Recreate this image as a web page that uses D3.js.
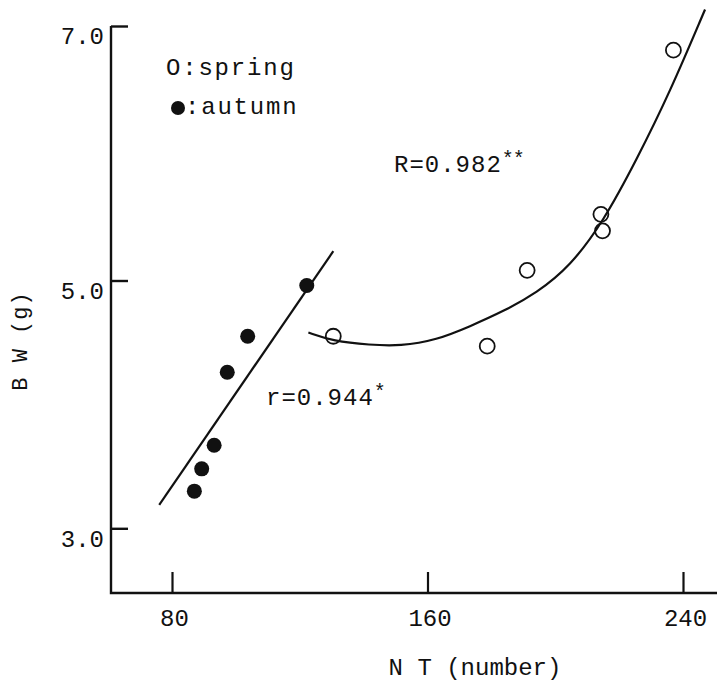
<!DOCTYPE html>
<html><head><meta charset="utf-8">
<script src="https://cdn.jsdelivr.net/npm/d3@7"></script>
<style>
body{margin:0;background:#fff}
text{font-family:"Liberation Mono","DejaVu Sans Mono",monospace;fill:#111}
</style>
</head><body>
<svg id="c" width="717" height="685"></svg>
<script>
// ---- data ----
const autumnNT = [122.2, 103.7, 97.3, 93.2, 89.3, 87.0];
const autumnBW = [4.96, 4.55, 4.26, 3.67, 3.48, 3.30];
const springNT = [130.5, 178.7, 191.2, 214.3, 214.8, 237.0];
const springBW = [4.55, 4.47, 5.08, 5.52, 5.39, 6.81];
// fitted line (autumn) endpoints and fitted curve (spring)
const autumnFitNT = [76.0, 130.5];
const autumnFitBW = [3.19, 5.23];
const springFitNT = [122.7, 130.5, 142.0, 151.4, 162.9, 173.3, 183.7, 194.2, 204.6, 215.0, 225.5, 235.9, 246.9];
const springFitBW = [4.58, 4.51, 4.48, 4.47, 4.52, 4.63, 4.75, 4.90, 5.11, 5.46, 5.95, 6.48, 7.13];
const xTicks = [80, 160, 240];
const yTicks = [3.0, 5.0, 7.0];
const labels = {x: "N T (number)", y: "B W (g)", spring: "O:spring", autumn: ":autumn",
                rAutumn: "r=0.944", rSpring: "R=0.982", starA: "*", starS: "**"};

// ---- layout ----
const svg = d3.select("#c");
const axisX0 = 111, axisX1 = 717, axisY = 593;
const x = d3.scaleLinear().domain([80, 240]).range([172, 683]);
const y = d3.scaleLinear().domain([3, 5, 7]).range([528.3, 280.5, 26]);
const ink = "#111";
const FONT = '"Liberation Mono","DejaVu Sans Mono",monospace';

// axis lines
svg.append("path")
  .attr("d", `M${axisX0},${y(7)}V${axisY}H${axisX1}`)
  .attr("fill", "none").attr("stroke", ink).attr("stroke-width", 2.4);

// y axis ticks
const gy = svg.append("g").attr("transform", `translate(${axisX0},0)`)
  .call(d3.axisLeft(y).tickValues(yTicks).tickSize(-17).tickPadding(7).tickFormat(d3.format(".1f")));
gy.select(".domain").remove();
gy.selectAll(".tick line").attr("stroke", ink).attr("stroke-width", 2.4);
gy.selectAll(".tick text").attr("font-size", 24).attr("dy", "0.74em")
  .style("font-family", FONT).attr("fill", ink);

// x axis ticks
const gx = svg.append("g").attr("transform", `translate(0,${axisY})`)
  .call(d3.axisBottom(x).tickValues(xTicks).tickSize(-21).tickPadding(16).tickFormat(d3.format("d")));
gx.select(".domain").remove();
gx.selectAll(".tick line").attr("stroke", ink).attr("stroke-width", 2.2);
gx.selectAll(".tick text").attr("font-size", 24).attr("x", 2)
  .style("font-family", FONT).attr("fill", ink);

// axis titles
svg.append("text").attr("x", 475).attr("y", 675).attr("text-anchor", "middle")
  .attr("font-size", 24).text(labels.x);
svg.append("text").attr("transform", "translate(27,341) rotate(-90)").attr("text-anchor", "middle")
  .attr("font-size", 22).attr("letter-spacing", 1).text(labels.y);

// fitted autumn line
svg.append("path")
  .datum(autumnFitNT.map((v, i) => [v, autumnFitBW[i]]))
  .attr("d", d3.line().x(d => x(d[0])).y(d => y(d[1])))
  .attr("fill", "none").attr("stroke", ink).attr("stroke-width", 2.2);

// fitted spring curve
svg.append("path")
  .datum(springFitNT.map((v, i) => [v, springFitBW[i]]))
  .attr("d", d3.line().x(d => x(d[0])).y(d => y(d[1])).curve(d3.curveBasis))
  .attr("fill", "none").attr("stroke", ink).attr("stroke-width", 2.2);

// points
svg.append("g").selectAll("circle")
  .data(autumnNT.map((v, i) => [v, autumnBW[i]]))
  .join("circle").attr("cx", d => x(d[0])).attr("cy", d => y(d[1])).attr("r", 7.5).attr("fill", ink);
svg.append("g").selectAll("circle")
  .data(springNT.map((v, i) => [v, springBW[i]]))
  .join("circle").attr("cx", d => x(d[0])).attr("cy", d => y(d[1])).attr("r", 7.5)
  .attr("fill", "none").attr("stroke", ink).attr("stroke-width", 1.8);

// legend
svg.append("text").attr("x", 166).attr("y", 75).attr("font-size", 24).attr("letter-spacing", 1.8).text(labels.spring);
svg.append("circle").attr("cx", 178).attr("cy", 108).attr("r", 7).attr("fill", ink);
svg.append("text").attr("x", 185).attr("y", 114).attr("font-size", 24).attr("letter-spacing", 1.8).text(labels.autumn);

// annotations
const tA = svg.append("text").attr("x", 266).attr("y", 405).attr("font-size", 24).attr("letter-spacing", 1);
tA.append("tspan").text(labels.rAutumn);
tA.append("tspan").attr("font-size", 20).attr("dy", -7).text(labels.starA);
const tS = svg.append("text").attr("x", 394).attr("y", 172).attr("font-size", 24).attr("letter-spacing", 1);
tS.append("tspan").text(labels.rSpring);
tS.append("tspan").attr("font-size", 20).attr("dy", -7).attr("letter-spacing", -1).text(labels.starS);
</script>
</body></html>
